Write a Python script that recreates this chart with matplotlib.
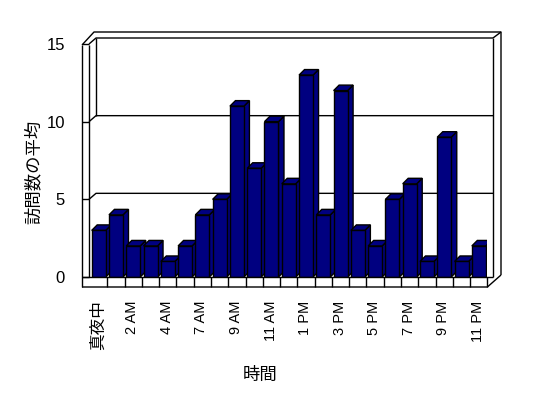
import matplotlib.pyplot as plt
from matplotlib.patches import Polygon

plt.rcParams['font.family'] = ['Liberation Sans', 'Noto Sans CJK JP']

hours = ['真夜中', '1 AM', '2 AM', '3 AM', '4 AM', '6 AM', '7 AM', '8 AM',
         '9 AM', '10 AM', '11 AM', '12 PM', '1 PM', '2 PM', '3 PM', '4 PM',
         '5 PM', '6 PM', '7 PM', '8 PM', '9 PM', '10 PM', '11 PM']
visits = [3, 4, 2, 2, 1, 2, 4, 5, 11, 7, 10, 6, 13, 4, 12, 3, 2, 5, 6, 1, 9, 1, 2]
y_ticks = [0, 5, 10, 15]

W, H = 548, 398
PX_X = 397.4 / len(visits)   # pixels per category
PX_Y = 233 / 15              # pixels per unit


def fx(px):
    return (px - 90) / PX_X


def fy(py):
    return (277 - py) / PX_Y


fig = plt.figure(figsize=(W / 100, H / 100), dpi=100)
ax = fig.add_axes([90 / W, (H - 277) / H, 397.4 / W, 233 / H])
ax.set_xlim(0, len(visits))
ax.set_ylim(0, 15)
for s in ax.spines.values():
    s.set_visible(False)

line = dict(color='black', lw=1, clip_on=False, solid_capstyle='butt')

# back wall gridlines and left wall ticks
for v in y_ticks:
    ax.plot([fx(82), fx(89)], [v, v], **line, zorder=10)
    if v > 0:
        ax.plot([fx(89), fx(96), fx(493)], [v, v + 6 / PX_Y, v + 6 / PX_Y], **line, zorder=1)

# walls / frame
ax.plot([fx(82), fx(82)], [fy(45), fy(287)], **line, zorder=10)
ax.plot([fx(89), fx(89)], [fy(45), fy(277)], **line, zorder=10)
ax.plot([fx(96), fx(96)], [fy(38), fy(116)], **line, zorder=1)
ax.plot([fx(82), fx(94), fx(501), fx(501)], [fy(45), fy(32), fy(32), fy(275)], **line, zorder=10)
ax.plot([fx(493), fx(501)], [fy(38), fy(32)], **line, zorder=10)
ax.plot([fx(493), fx(493)], [fy(38), fy(277)], **line, zorder=10)

# floor
ax.plot([fx(82), len(visits), fx(501)], [fy(287), fy(287), fy(275)], **line, zorder=10)
ax.plot([fx(82), fx(493)], [0, 0], **line, zorder=10)
for k in range(1, len(visits) + 1):
    ax.plot([k, k], [0, fy(287)], **line, zorder=10)

# bars with fake depth
bw = 14 / PX_X
ddx, ddy = 5.5 / PX_X, 5.5 / PX_Y
navy = '#000080'
xs = [i + 1.7 / PX_X for i in range(len(visits))]
bars = ax.bar(xs, visits, width=bw, align='edge', color=navy,
              edgecolor='black', linewidth=1)
for i, (b, x0, h) in enumerate(zip(bars, xs, visits)):
    z = 3 + i * 0.01
    b.set_zorder(z)
    side = [(x0 + bw, 0), (x0 + bw + ddx, ddy), (x0 + bw + ddx, h + ddy), (x0 + bw, h)]
    top = [(x0, h), (x0 + ddx, h + ddy), (x0 + bw + ddx, h + ddy), (x0 + bw, h)]
    ax.add_patch(Polygon(side, closed=True, fc=navy, ec='black', lw=1, zorder=z - 0.001))
    ax.add_patch(Polygon(top, closed=True, fc=navy, ec='black', lw=1, zorder=z - 0.001))

# ticks
ax.tick_params(length=0)
ax.set_yticks(y_ticks)
ax.set_yticklabels([str(v) for v in y_ticks], fontsize=12)
ax.tick_params(axis='y', pad=18)
idx = list(range(0, len(hours), 2))
ax.set_xticks([i + 0.45 for i in idx])
ax.set_xticklabels([hours[i] for i in idx], rotation=90, fontsize=10.5, va='top')
ax.tick_params(axis='x', pad=17)
ax.get_xticklabels()[0].set_fontsize(12)

fig.text(34 / W, 1 - 172 / H, '訪問数の平均', rotation=90, fontsize=12.5,
         ha='center', va='center', family=['Noto Sans CJK JP'])
fig.text(260 / W, 1 - 375 / H, '時間', fontsize=12.5, ha='center', va='center',
         family=['Noto Sans CJK JP'])

fig.savefig('out.png', dpi=100)
